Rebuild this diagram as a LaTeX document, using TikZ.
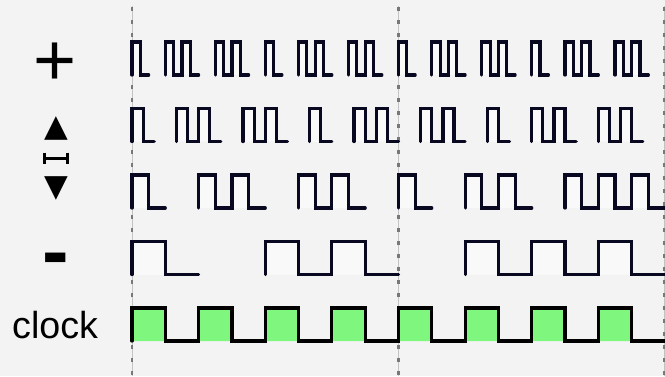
\documentclass[tikz,border=0pt]{standalone}
\usepackage{fontspec}
\setmainfont{Liberation Sans}
\newfontfamily\symfont{DejaVu Sans}
\definecolor{bgcol}{RGB}{243,243,243}
\definecolor{wavecol}{RGB}{8,8,32}
\definecolor{pulsefill}{RGB}{249,249,250}
\definecolor{clockfill}{RGB}{127,247,127}
\definecolor{gridline}{RGB}{195,195,195}
\definecolor{griddash}{RGB}{120,120,120}
\tikzset{
  wave/.style={line width=3.2bp, line join=miter, line cap=round},
  lab/.style={inner sep=0pt, text=black},
}
\newcommand\wavrow[5]{%
  \foreach \s/\nn in {#3} {%
    \pgfmathsetmacro\xa{132+\s*#2}%
    \fill[#5] \foreach \k in {1,...,\nn} { ({\xa+2*(\k-1)*#2},#1) rectangle ++(#2,-33) };
    \draw[wave,#4] (\xa,#1) \foreach \k in {1,...,\nn} { -- ++(0,-33) -- ++(#2,0) -- ++(0,33) -- ++(#2,0) };
  }%
}
\begin{document}
\begin{tikzpicture}[x=1bp,y=-1bp]
\fill[bgcol] (0,0) rectangle (665,376);
\useasboundingbox (0,0) rectangle (665,376);
% grid
\foreach \x in {132,398.5,664} {
  \draw[gridline, line width=0.8bp] (\x,6) -- (\x,376);
  \draw[griddash, line width=2.2bp, dash pattern=on 4bp off 9bp] (\x,7) -- (\x,376);
}
% rows
\wavrow{75}{8.328125}{0/1,4/2,10/2,16/1,20/2,26/2,32/1,36/2,42/2,48/1,52/2,58/2}{wavecol}{pulsefill}
\wavrow{141.5}{11.104167}{0/1,4/2,10/2,16/1,20/2,26/2,32/1,36/2,42/2}{wavecol}{pulsefill}
\wavrow{208}{16.65625}{0/1,4/2,10/2,16/1,20/2,26/3}{wavecol}{pulsefill}
\wavrow{274.5}{33.3125}{0/1,4/2,10/3}{wavecol}{pulsefill}
\wavrow{341}{33.3125}{0/8}{black}{clockfill}
% labels
\node[lab, font=\fontsize{74}{74}\selectfont, anchor=base] (plus) at (55.5,85.5) {+};
\node[lab, font=\symfont\fontsize{31}{31}\selectfont] (up) at (56,128.5) {▲};
\draw[line width=3bp] (44.5,152.5) -- (44.5,163.5) (67.5,152.5) -- (67.5,163.5) (44.5,158) -- (67.5,158);
\node[lab, font=\symfont\fontsize{31}{31}\selectfont] (down) at (56,188) {▼};
\node[lab, font=\bfseries\fontsize{80}{80}\selectfont, anchor=base] (minus) at (56,278) {-};
\node[lab, font=\fontsize{37.8}{40}\selectfont, anchor=base west] (clk) at (12,338) {clock};
\end{tikzpicture}
\end{document}
